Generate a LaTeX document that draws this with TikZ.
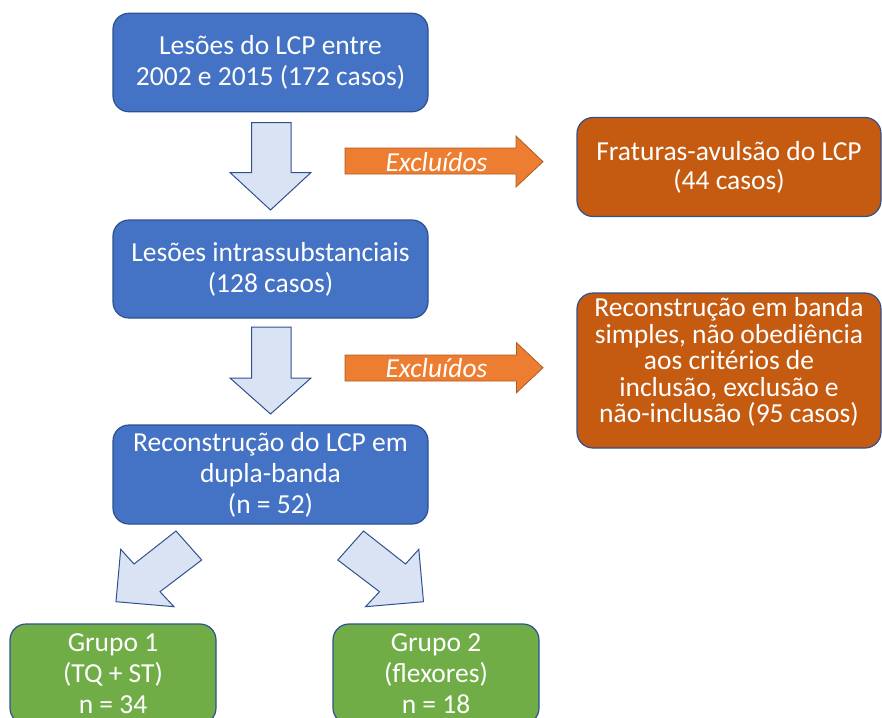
\documentclass[tikz,border=0pt]{standalone}
\usepackage{fontspec}
\setmainfont{Carlito}
\definecolor{bluefill}{HTML}{4472C4}
\definecolor{blueline}{HTML}{2F528F}
\definecolor{lightfill}{HTML}{DAE3F3}
\definecolor{orangefill}{HTML}{C55A11}
\definecolor{arrowfill}{HTML}{ED7D31}
\definecolor{arrowline}{HTML}{AE5A21}
\definecolor{greenfill}{HTML}{70AD47}
\tikzset{
  box/.style={draw=blueline, line width=1.2pt, rounded corners=16pt, text=white,
    align=center, inner sep=0pt, font=\fontsize{27.5}{31}\selectfont},
  bluebox/.style={box, fill=bluefill, minimum width=315pt},
  orangebox/.style={box, fill=orangefill, minimum width=304pt},
  greenbox/.style={box, fill=greenfill, minimum width=206pt, minimum height=100pt},
  boxtext/.style={text=white, align=center, inner sep=0pt},
  downarrow/.style={draw=blueline, line width=1pt, fill=lightfill, line join=miter},
  exclarrow/.style={draw=arrowline, line width=0.8pt, fill=arrowfill},
  excltext/.style={text=white, font=\fontsize{27.5}{30}\selectfont\itshape, inner sep=0pt}
}
\begin{document}
\begin{tikzpicture}[x=1pt,y=-1pt]
\useasboundingbox (0,0) rectangle (882,717);

% main column
\node[bluebox, minimum height=98.5pt] (b1) at (270.5,62.5) {Lesões do LCP entre\\2002 e 2015 (172 casos)};
\node[bluebox, minimum height=98pt] (b2) at (270.5,269) {Lesões intrassubstanciais\\(128 casos)};
\node[bluebox, minimum height=99pt] (b3) at (270.5,474.5) {Reconstrução do LCP em\\dupla-banda\\(n = 52)};

% excluded boxes
\node[orangebox, minimum height=99pt, font=\fontsize{27.5}{29}\selectfont] (o1) at (729,167) {Fraturas-avulsão do LCP\\(44 casos)};
\draw[draw=blueline, line width=1.2pt, rounded corners=16pt, fill=orangefill] (577,293) rectangle (881,448);
\node[boxtext, font=\fontsize{27.5}{26.5}\selectfont] (o2) at (729,362)
  {Reconstrução em banda\\simples, não obediência\\aos critérios de\\inclusão, exclusão e\\não-inclusão (95 casos)};

% groups
\node[greenbox] (g1) at (113,674) {Grupo 1\\(TQ + ST)\\n = 34};
\node[greenbox] (g2) at (436,674) {Grupo 2\\(flexores)\\n = 18};

% down arrows
\draw[downarrow] (251.5,122.5) -- (291,122.5) -- (291,172.5) -- (311,172.5) -- (270.5,210)
  -- (230,172.5) -- (251.5,172.5) -- cycle;
\draw[downarrow] (251.5,327) -- (291,327) -- (291,378) -- (311,378) -- (270.5,414)
  -- (230,378) -- (251.5,378) -- cycle;

% diagonal arrows
\draw[downarrow] (176,531) -- (201.7,560) -- (160,591.7) -- (174,606.7) -- (116,601.7)
  -- (120.7,549.3) -- (134,564) -- cycle;
\draw[downarrow] (363.5,531) -- (337.8,560) -- (379.5,591.7) -- (365.5,606.7) -- (423.5,601.7)
  -- (418.8,549.3) -- (405.5,564) -- cycle;

% excluded arrows
\draw[exclarrow] (345,148) -- (516,148) -- (516,136) -- (543,161.7) -- (516,187)
  -- (516,174) -- (345,174) -- cycle;
\node[excltext] (e1) at (436.5,161.7) {Excluídos};
\draw[exclarrow] (345,355) -- (516.5,355) -- (516.5,342.7) -- (543,367.7) -- (516.5,392.7)
  -- (516.5,381) -- (345,381) -- cycle;
\node[excltext] (e2) at (436.5,367.7) {Excluídos};
\end{tikzpicture}
\end{document}
